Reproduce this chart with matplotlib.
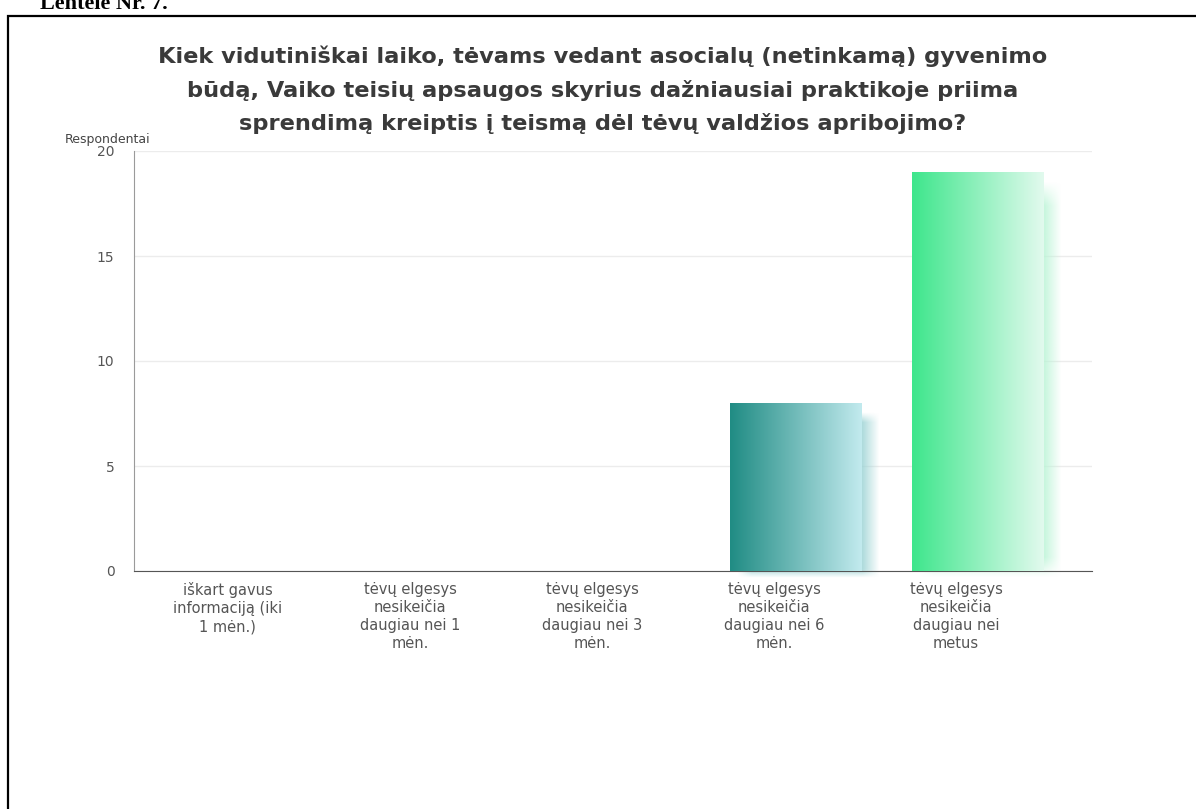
import numpy as np
import matplotlib.pyplot as plt
from matplotlib.colors import to_rgb
from matplotlib.patches import Rectangle

# data
categories = [
    "iškart gavus\ninformaciją (iki\n1 mėn.)",
    "tėvų elgesys\nnesikeičia\ndaugiau nei 1\nmėn.",
    "tėvų elgesys\nnesikeičia\ndaugiau nei 3\nmėn.",
    "tėvų elgesys\nnesikeičia\ndaugiau nei 6\nmėn.",
    "tėvų elgesys\nnesikeičia\ndaugiau nei\nmetus",
]
values = [0, 0, 0, 8, 19]
dark_cols = ["#1f8a80", "#1f8a80", "#1f8a80", "#208c84", "#3ee68c"]
light_cols = ["#c8ecef", "#c8ecef", "#c8ecef", "#c2eaee", "#e2faee"]
title = ("Kiek vidutiniškai laiko, tėvams vedant asocialų (netinkamą) gyvenimo\n"
         "būdą, Vaiko teisių apsaugos skyrius dažniausiai praktikoje priima\n"
         "sprendimą kreiptis į teismą dėl tėvų valdžios apribojimo?")

fig = plt.figure(figsize=(11.96, 8.09), dpi=100)
ax = fig.add_axes([134 / 1196, 238 / 809, 958 / 1196, 420 / 809])

ax.set_ylim(0, 20)
ax.set_yticks([0, 5, 10, 15, 20])
ax.grid(axis="y", color="#ececec", linewidth=1)
ax.set_axisbelow(True)
for s in ["top", "right"]:
    ax.spines[s].set_visible(False)
ax.spines["left"].set_color("#9a9a9a")
ax.spines["bottom"].set_color("#555555")
ax.tick_params(axis="y", length=0, pad=14, labelsize=10, labelcolor="#555555")
ax.tick_params(axis="x", length=0, pad=8, labelsize=10.5, labelcolor="#555555")
ax.set_xticks(range(len(categories)))
ax.set_xticklabels(categories, linespacing=1.25, va="top")

w = 0.725
off = 0.12
for i, v in enumerate(values):
    if v <= 0:
        continue
    c0 = np.array(to_rgb(dark_cols[i]))
    c1 = np.array(to_rgb(light_cols[i]))
    x0 = i + off - w / 2
    x1 = i + off + w / 2
    # soft shadow behind the bar
    nx, ny = 120, 200
    gx = np.linspace(0, 1, nx)
    gy = np.linspace(0, 1, ny)
    sx = np.clip(np.minimum(gx / 0.1, (1 - gx) / 0.12), 0, 1)
    sy = np.clip(np.minimum(gy / 0.05, (1 - gy) / 0.06), 0, 1)
    alpha = np.outer(sy, sx) * 0.8
    sh = np.zeros((ny, nx, 4))
    sh[..., :3] = c1 * 0.75 + c0 * 0.25
    sh[..., 3] = alpha
    ax.imshow(sh, extent=(x0 + 0.04, x1 + 0.1, -0.35, v - 0.45), origin="lower",
              aspect="auto", zorder=2, interpolation="bilinear", clip_on=False)
    # gradient bar
    t = np.linspace(0, 1, 200)
    grad = np.zeros((2, 200, 3))
    grad[:] = c0[None, :] * (1 - t[:, None]) + c1[None, :] * t[:, None]
    ax.imshow(grad, extent=(x0, x1, 0, v), origin="lower", aspect="auto",
              zorder=3, interpolation="bilinear")
ax.set_xlim(-0.516, 4.747)
ax.set_ylim(0, 20)

fig.text(603 / 1196, 1 - 90 / 809, title, ha="center", va="center",
         fontsize=16.2, fontweight="bold", color="#3a3a3a", linespacing=1.75,
         family="DejaVu Sans")
fig.text(65 / 1196, 1 - 140 / 809, "Respondentai", ha="left", va="center",
         fontsize=9, color="#444444")

# document frame
fig.patches.append(Rectangle((8 / 1196, -0.1), 1.2, (809 - 16) / 809 + 0.1,
                             transform=fig.transFigure, fill=False,
                             edgecolor="black", linewidth=1.6))
fig.text(40 / 1196, 1 - 4 / 809, "Lentelė Nr. 7.", ha="left", va="center",
         fontsize=16, fontweight="bold", family="Liberation Serif")

fig.savefig("out.png", dpi=100)
